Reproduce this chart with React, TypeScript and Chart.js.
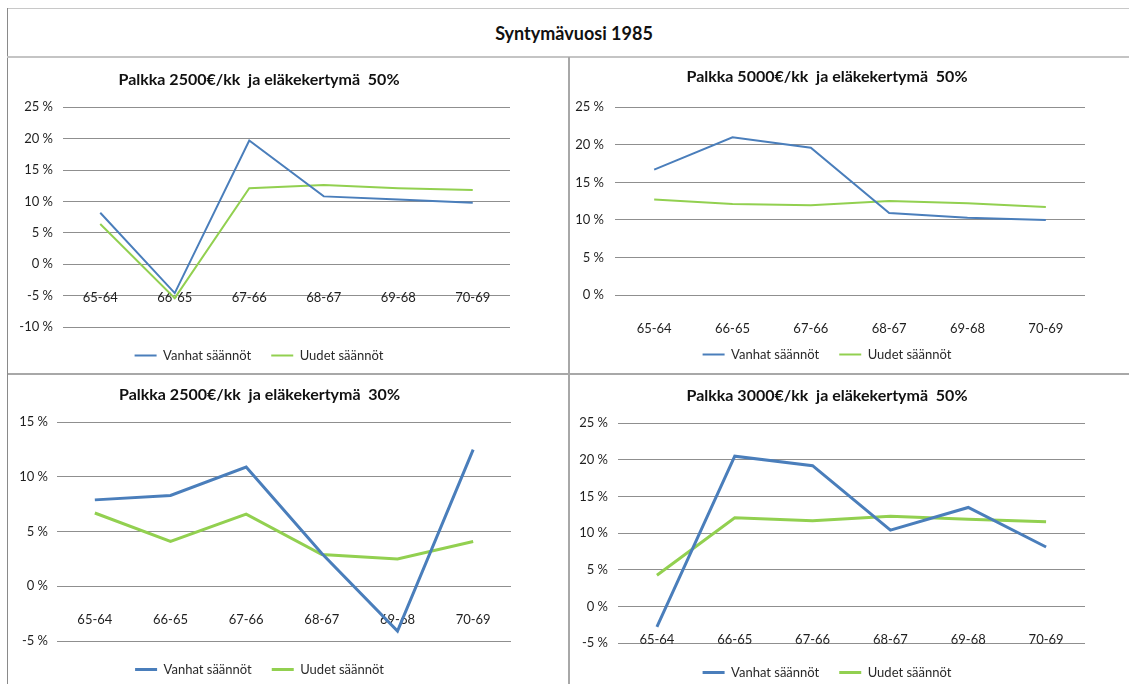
import React, { useEffect, useRef } from "react";
import { Chart, registerables } from "chart.js";

Chart.register(...registerables);

// ---------- data ----------
const mainTitle = "Syntymävuosi 1985";
const categories = ["65-64", "66-65", "67-66", "68-67", "69-68", "70-69"];
const seriesNames = ["Vanhat säännöt", "Uudet säännöt"];

const titleA = "Palkka 2500€/kk  ja eläkekertymä  50%";
const oldA = [8.2, -4.6, 19.7, 10.8, 10.3, 9.8];
const newA = [6.4, -5.4, 12.1, 12.6, 12.1, 11.8];
const rangeA = [-10, 25];

const titleB = "Palkka 5000€/kk  ja eläkekertymä  50%";
const oldB = [16.7, 21.0, 19.6, 10.9, 10.3, 10.0];
const newB = [12.7, 12.1, 11.95, 12.5, 12.2, 11.7];
const rangeB = [0, 25];

const titleC = "Palkka 2500€/kk  ja eläkekertymä  30%";
const oldC = [7.9, 8.3, 10.9, 3.0, -4.1, 12.5];
const newC = [6.7, 4.1, 6.6, 2.9, 2.5, 4.1];
const rangeC = [-5, 15];

const titleD = "Palkka 3000€/kk  ja eläkekertymä  50%";
const oldD = [-2.8, 20.5, 19.2, 10.4, 13.5, 8.1];
const newD = [4.25, 12.1, 11.7, 12.3, 11.9, 11.55];
const rangeD = [-5, 25];

const tickStep = 5;

// ---------- styles ----------
const FONT = "Lato, 'Open Sans', 'DejaVu Sans', sans-serif";
const BLUE = "#4a7ebb";
const GREEN = "#92d050";
const GRID = "#8f8f8f";
const TEXT = "#1f1f1f";

type Lay = {
  x: number; y: number; w: number; h: number;
  yW: number; tickPad: number; padR: number; padB: number;
  tPt: number; tPb: number; legT: number; lineW: number;
};

const layA: Lay = { x: 8, y: 57, w: 561, h: 317, yW: 55, tickPad: 10, padR: 59, padB: 2, tPt: 13, tPb: 18, legT: 1, lineW: 2 };
const layB: Lay = { x: 569, y: 57, w: 560, h: 317, yW: 46, tickPad: 11, padR: 44, padB: 3, tPt: 10, tPb: 21, legT: 32, lineW: 2 };
const layC: Lay = { x: 8, y: 374, w: 561, h: 320, yW: 49, tickPad: 9, padR: 58, padB: 8, tPt: 11, tPb: 18, legT: 1, lineW: 3 };
const layD: Lay = { x: 569, y: 374, w: 560, h: 320, yW: 49, tickPad: 10, padR: 44, padB: 5, tPt: 12, tPb: 18, legT: 2, lineW: 3 };

function Panel(props: { title: string; oldVals: number[]; newVals: number[]; range: number[]; lay: Lay }) {
  const { title, oldVals, newVals, range, lay } = props;
  const ref = useRef<HTMLCanvasElement>(null);
  useEffect(() => {
    if (!ref.current) return;
    const tickFont = { family: FONT, size: 13 };
    const chart = new Chart(ref.current, {
      type: "line",
      data: {
        labels: categories,
        datasets: [
          {
            label: seriesNames[0],
            data: oldVals,
            borderColor: BLUE,
            backgroundColor: BLUE,
            borderWidth: lay.lineW,
            pointRadius: 0,
            tension: 0,
          },
          {
            label: seriesNames[1],
            data: newVals,
            borderColor: GREEN,
            backgroundColor: GREEN,
            borderWidth: lay.lineW,
            pointRadius: 0,
            tension: 0,
          },
        ],
      },
      options: {
        responsive: false,
        animation: false,
        devicePixelRatio: 1,
        layout: { padding: { left: 0, right: lay.padR, top: 0, bottom: lay.padB } },
        plugins: {
          title: {
            display: true,
            text: title,
            color: "#111",
            font: { family: FONT, size: 16, weight: "bold", lineHeight: 1.2 },
            padding: { top: lay.tPt, bottom: lay.tPb },
          },
          legend: {
            position: "bottom",
            title: {
              display: true,
              text: "",
              font: { size: 1, lineHeight: 1 },
              padding: { top: lay.legT, bottom: 0 },
            },
            labels: {
              usePointStyle: true,
              pointStyle: "line",
              pointStyleWidth: 22,
              padding: 20,
              color: "#2a2a2a",
              font: { family: FONT, size: 13 },
            },
          },
          tooltip: { enabled: false },
        },
        scales: {
          x: {
            position: { y: 0 } as any,
            offset: true,
            grid: { display: false },
            border: { display: false },
            ticks: { padding: 18, color: TEXT, font: tickFont, maxRotation: 0 },
            afterFit: (s: any) => {
              s.height = 0;
            },
          },
          y: {
            min: range[0],
            max: range[1],
            ticks: {
              stepSize: tickStep,
              padding: lay.tickPad,
              color: TEXT,
              font: tickFont,
              callback: (v: any) => `${v} %`,
            },
            grid: { color: GRID, lineWidth: 1, drawTicks: false },
            border: { display: false },
            afterFit: (s: any) => {
              s.width = lay.yW;
            },
          },
        },
      },
    } as any);
    return () => chart.destroy();
  }, []);
  return (
    <canvas
      ref={ref}
      width={lay.w}
      height={lay.h}
      style={{ position: "absolute", left: lay.x, top: lay.y, width: lay.w, height: lay.h }}
    />
  );
}

export default function App() {
  return (
    <div
      style={{
        position: "absolute",
        left: 0,
        top: 0,
        width: 1129,
        height: 684,
        overflow: "hidden",
        background: "#fff",
      }}
    >
      <div
        style={{
          position: "absolute",
          left: 14,
          top: 9,
          width: 1120,
          height: 48,
          display: "flex",
          alignItems: "center",
          justifyContent: "center",
          fontFamily: FONT,
          fontWeight: "bold",
          fontSize: 18,
          color: "#111",
        }}
      >
        {mainTitle}
      </div>
      <Panel title={titleA} oldVals={oldA} newVals={newA} range={rangeA} lay={layA} />
      <Panel title={titleB} oldVals={oldB} newVals={newB} range={rangeB} lay={layB} />
      <Panel title={titleC} oldVals={oldC} newVals={newC} range={rangeC} lay={layC} />
      <Panel title={titleD} oldVals={oldD} newVals={newD} range={rangeD} lay={layD} />
      {/* frame lines */}
      <div style={{ position: "absolute", left: 7, top: 8, width: 1122, height: 1, background: "#c8c8c8" }} />
      <div style={{ position: "absolute", left: 7, top: 8, width: 1, height: 676, background: "#8a8a8a" }} />
      <div style={{ position: "absolute", left: 7, top: 56, width: 1122, height: 2, background: "#c4c4c4" }} />
      <div style={{ position: "absolute", left: 568, top: 57, width: 2, height: 627, background: "#a8a8a8" }} />
      <div style={{ position: "absolute", left: 8, top: 373, width: 1121, height: 2, background: "#a8a8a8" }} />
    </div>
  );
}
